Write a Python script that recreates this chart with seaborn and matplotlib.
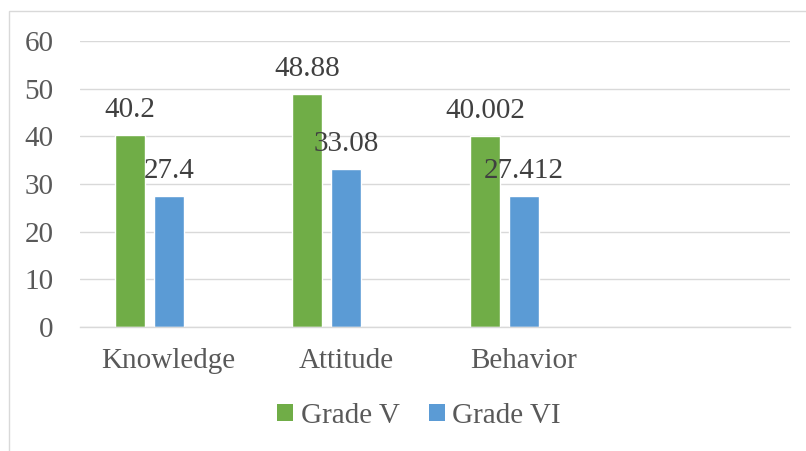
import pandas as pd
import matplotlib.pyplot as plt
import seaborn as sns
from matplotlib.patches import Patch, Rectangle

categories = ["Knowledge", "Attitude", "Behavior"]
grade_v = [40.2, 48.88, 40.002]
grade_vi = [27.4, 33.08, 27.412]
series = ["Grade V", "Grade VI", "blank"]
colors = ["#70AD47", "#5B9BD5", "#A5A5A5"]
y_ticks = [0, 10, 20, 30, 40, 50, 60]

df = pd.DataFrame({
    "category": categories * 3,
    "series": ["Grade V"] * 3 + ["Grade VI"] * 3 + ["blank"] * 3,
    "value": grade_v + grade_vi + [float("nan")] * 3,
})

sns.set_theme(style="white")
plt.rcParams["font.family"] = ["Liberation Serif", "DejaVu Serif"]
FS = 21

fig = plt.figure(figsize=(8.06, 4.51), dpi=100)
ax = fig.add_axes([80 / 806, 124 / 451, 710 / 806, 286 / 451])

sns.barplot(data=df, x="category", y="value", hue="series", order=categories,
            hue_order=series, palette=dict(zip(series, colors)), width=0.657,
            gap=0.23, errorbar=None, legend=False, ax=ax, saturation=1)

ax.set_xlim(-0.5, 3.5)
ax.set_ylim(0, 60)
ax.set_yticks(y_ticks)
ax.set_xlabel("")
ax.set_ylabel("")
ax.yaxis.grid(True, color="#d9d9d9", linewidth=1.0)
ax.set_axisbelow(True)
for side in ["top", "right", "left"]:
    ax.spines[side].set_visible(False)
ax.spines["bottom"].set_color("#d9d9d9")
ax.spines["bottom"].set_linewidth(1.0)
ax.tick_params(axis="y", length=0, pad=19, labelsize=FS, labelcolor="#595959")
ax.tick_params(axis="x", length=0, pad=15, labelsize=FS, labelcolor="#595959")

# data labels above the bars
for container in ax.containers:
    for bar in container:
        h = bar.get_height()
        if h != h:
            continue
        label = f"{h:g}" if h != 40.002 else "40.002"
        ax.annotate(label, (bar.get_x() + bar.get_width() / 2, h),
                    xytext=(0, 13), textcoords="offset points",
                    ha="center", va="baseline", fontsize=FS, color="#404040")

handles = [Patch(facecolor=c, edgecolor="none") for c in colors[:2]]
fig.legend(handles, series[:2], loc="center", bbox_to_anchor=(419 / 806, 35 / 451),
           ncol=2, frameon=False, fontsize=FS, labelcolor="#595959",
           handlelength=0.55, handleheight=0.55, handletextpad=0.25, columnspacing=1.0)

fig.patches.append(Rectangle((9 / 806, -0.1), 1.2, 1.1 - 11 / 451,
                             transform=fig.transFigure, fill=False,
                             edgecolor="#d9d9d9", linewidth=1.0))

fig.savefig("out.png", dpi=100)
